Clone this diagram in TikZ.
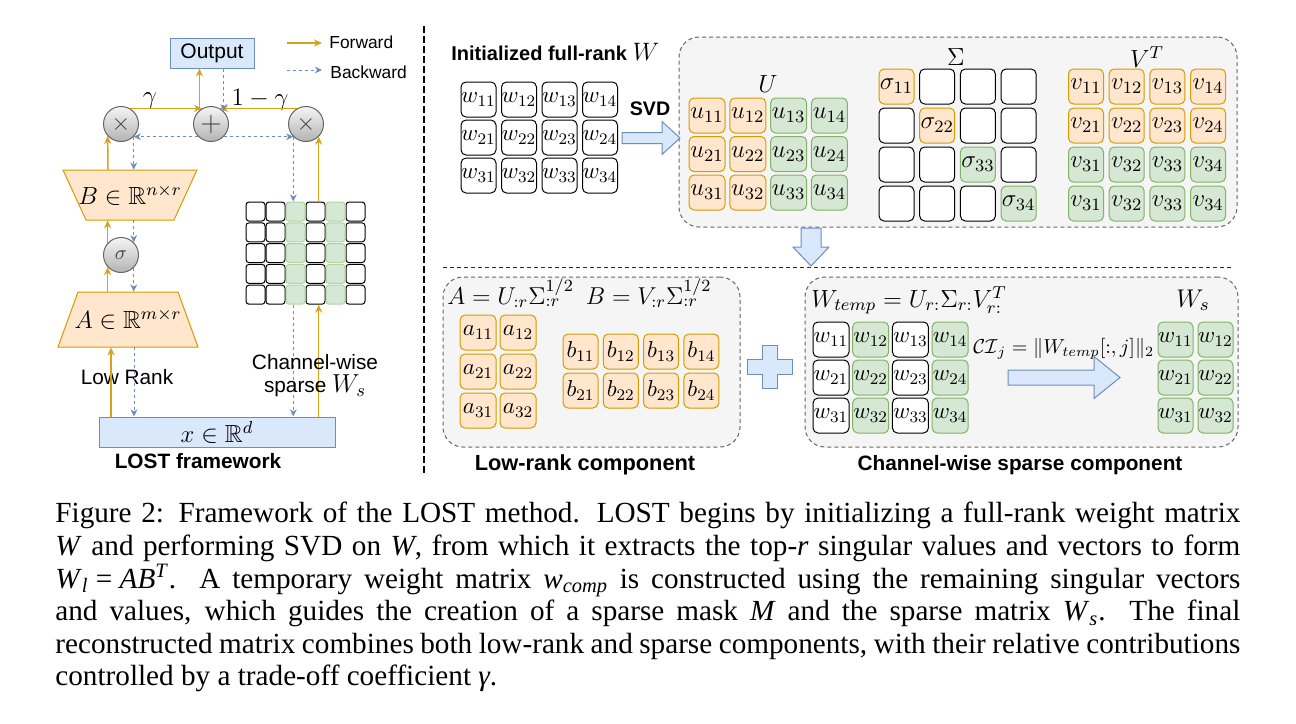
\RequirePackage{fix-cm}
\documentclass[tikz,border=0pt]{standalone}
\usepackage{amssymb}
\usepackage[no-math]{fontspec}
\newfontfamily\arial{Liberation Sans}
\newfontfamily\capfont{Liberation Serif}
\usetikzlibrary{arrows.meta}
\newcommand\setfs[2]{\fontsize{#1}{#2}\selectfont}
\newcommand\capit[1]{\textit{#1}}
\definecolor{ofill}{HTML}{FFE6CC}
\definecolor{ostroke}{HTML}{D79B00}
\definecolor{gfill}{HTML}{D5E8D4}
\definecolor{gstroke}{HTML}{82B366}
\definecolor{bfill}{HTML}{DAE8FC}
\definecolor{bstroke}{HTML}{6C8EBF}
\definecolor{contfill}{HTML}{F5F5F5}
\definecolor{contstroke}{HTML}{666666}
\definecolor{fwdc}{HTML}{D9A21B}
\definecolor{bwdc}{HTML}{6C8EBF}
\definecolor{ctop}{HTML}{F5F5F5}
\definecolor{cbot}{HTML}{B3B3B3}
\begin{document}
\begin{tikzpicture}[x=0.5pt,y=-0.5pt,
  fwd/.style={draw=fwdc, line width=0.75pt, -{Stealth[length=4pt,width=3.6pt]}},
  bwd/.style={draw=bwdc, line width=0.5pt, dash pattern=on 1.5pt off 1.5pt, -{Stealth[length=3.6pt,width=3.4pt]}},
  cellbase/.style={rounded corners=2.5pt, inner sep=0pt, line width=0.5pt},
  wc/.style={cellbase, draw=black, fill=white},
  oc/.style={cellbase, draw=ostroke, fill=ofill},
  gc/.style={cellbase, draw=gstroke, fill=gfill},
  sz35/.style={minimum width=17.5pt, minimum height=17.5pt},
  sz36/.style={minimum width=18pt, minimum height=17.5pt},
  m11/.style={font=\setfs{11.5}{13}},
  m12/.style={font=\setfs{12.4}{14}},
  sc/.style={minimum width=9.5pt, minimum height=9.5pt, rounded corners=1.5pt, inner sep=0pt, line width=0.5pt},
  opc/.style={circle, minimum size=17.5pt, inner sep=0pt, draw=contstroke, line width=0.5pt, top color=ctop, bottom color=cbot, text=black!75},
  cont/.style={draw=contstroke, fill=contfill, dash pattern=on 2pt off 1.5pt, rounded corners=10pt, line width=0.5pt, inner sep=0pt},
  bbox/.style={draw=bstroke, fill=bfill, line width=0.5pt, inner sep=0pt},
  blk/.style={draw=bstroke, fill=bfill, line width=0.5pt},
  lab/.style={font=\arial\setfs{10.4}{12}, inner sep=0pt},
  boldlab/.style={font=\arial\bfseries\setfs{10.4}{12}, inner sep=0pt},
]
\useasboundingbox (0,0) rectangle (1296,723);
\fill[white] (0,0) rectangle (1296,723);

% ---------- separators ----------
\draw[line width=1pt, dash pattern=on 3.5pt off 1.5pt] (423.5,26) -- (423.5,473);
\draw[line width=0.5pt, black!85, dash pattern=on 2pt off 1.5pt] (443,267) -- (1234,267);

% ---------- containers ----------
\node[cont, minimum width=279pt, minimum height=95pt] (svdc) at (958,132) {};
\node[cont, minimum width=148.5pt, minimum height=85pt] (lrc) at (591.5,362) {};
\node[cont, minimum width=216.5pt, minimum height=85pt] (spc) at (1021.5,362) {};

% ---------- block arrows ----------
\draw[blk] (622,132.5) -- (662,132.5) -- (662,121.5) -- (680,138) -- (662,154.5) -- (662,143.5) -- (622,143.5) -- cycle;
\draw[blk] (801,228) -- (821,228) -- (821,247) -- (829,247) -- (811,266) -- (793,247) -- (801,247) -- cycle;
\draw[blk] (1008,370) -- (1094,370) -- (1094,356.5) -- (1120,377.5) -- (1094,398.5) -- (1094,385) -- (1008,385) -- cycle;
\draw[blk] (747,359.5) -- (762.5,359.5) -- (762.5,345) -- (777.5,345) -- (777.5,359.5) -- (792,359.5) -- (792,374.5) -- (777.5,374.5) -- (777.5,388) -- (762.5,388) -- (762.5,374.5) -- (747,374.5) -- cycle;

% ---------- top right ----------
\node[anchor=base west, font=\arial\bfseries\setfs{10}{12}, inner sep=0pt] (initlab) at (451,60) {Initialized full-rank {\setfs{12.6}{14}$W$}};
\node[anchor=base, font=\arial\bfseries\setfs{9.8}{12}, inner sep=0pt] (svdlab) at (650,115) {SVD};

\foreach \r in {1,2,3}{\foreach \c in {1,2,3,4}{
  \node[wc,sz35,m11] (w-\r-\c) at ({478.5+40.5*(\c-1)},{99.5+38*(\r-1)}) {$w_{\r\c}$};
}}

\node[anchor=base, m12, inner sep=0pt] (ulab) at (768,92) {$U$};
\foreach \r in {1,2,3}{
  \foreach \c in {1,2}{\node[oc,sz36,m12] (u-\r-\c) at ({707+40.8*(\c-1)},{115.5+38.5*(\r-1)}) {$u_{\r\c}$};}
  \foreach \c in {3,4}{\node[gc,sz36,m12] (u-\r-\c) at ({707+40.8*(\c-1)},{115.5+38.5*(\r-1)}) {$u_{\r\c}$};}
}

\node[anchor=base, m12, inner sep=0pt] (slab) at (956,65) {$\Sigma$};
\foreach \r/\c in {1/2,1/3,1/4,2/1,2/3,2/4,3/1,3/2,3/4,4/1,4/2,4/3}{
  \node[wc,sz35] (sig-\r-\c) at ({896.5+40.7*(\c-1)},{86.5+39*(\r-1)}) {};
}
\node[oc,sz35,m12] (sig-1-1) at (896.5,86.5) {$\sigma_{11}$};
\node[oc,sz35,m12] (sig-2-2) at (937.2,125.5) {$\sigma_{22}$};
\node[gc,sz35,m12] (sig-3-3) at (977.9,164.5) {$\sigma_{33}$};
\node[gc,sz35,m12] (sig-4-4) at (1018.6,203.5) {$\sigma_{34}$};

\node[anchor=base, m12, inner sep=0pt] (vlab) at (1147,67) {$V^T$};
\foreach \c in {1,2,3,4}{
  \node[oc,sz35,m12] (v-1-\c) at ({1086+40.7*(\c-1)},86.5) {$v_{1\c}$};
  \node[oc,sz35,m12] (v-2-\c) at ({1086+40.7*(\c-1)},125.5) {$v_{2\c}$};
  \node[gc,sz35,m12] (v-3-\c) at ({1086+40.7*(\c-1)},164.5) {$v_{3\c}$};
  \node[gc,sz35,m12] (v-4-\c) at ({1086+40.7*(\c-1)},203.5) {$v_{3\c}$};
}

% ---------- bottom right: low rank ----------
\node[anchor=base west, font=\setfs{12.2}{14}, inner sep=0pt] (abform) at (447,304) {$A = U_{:r}\Sigma_{:r}^{1/2}\hspace{6pt}B = V_{:r}\Sigma_{:r}^{1/2}$};
\foreach \r in {1,2,3}{\foreach \c in {1,2}{
  \node[oc,sz36,m11] (a-\r-\c) at ({478+40*(\c-1)},{332.5+39*(\r-1)}) {$a_{\r\c}$};
}}
\foreach \r in {1,2}{\foreach \c in {1,2,3,4}{
  \node[oc,sz35,m11] (b-\r-\c) at ({580.5+40.3*(\c-1)},{351.5+39*(\r-1)}) {$b_{\r\c}$};
}}
\node[anchor=base, font=\arial\bfseries\setfs{10.9}{12}, inner sep=0pt] (lrlab) at (585,470) {Low-rank component};

% ---------- bottom right: sparse ----------
\node[anchor=base west, font=\setfs{12.4}{14}, inner sep=0pt] (wtform) at (811,307) {$W_{temp} = U_{r:}\Sigma_{r:}V_{r:}^{T}$};
\node[anchor=base, font=\setfs{12.8}{14}, inner sep=0pt] (wslab) at (1193,307) {$W_s$};
\foreach \r in {1,2,3}{
  \foreach \c in {1,3}{\node[wc,sz36,m11] (t-\r-\c) at ({831+39.7*(\c-1)},{339.5+38*(\r-1)}) {$w_{\r\c}$};}
  \foreach \c in {2,4}{\node[gc,sz36,m11] (t-\r-\c) at ({831+39.7*(\c-1)},{339.5+38*(\r-1)}) {$w_{\r\c}$};}
  \foreach \c in {1,2}{\node[gc,sz35,m11] (ws-\r-\c) at ({1175.5+40*(\c-1)},{339.5+38*(\r-1)}) {$w_{\r\c}$};}
}
\node[anchor=base west, font=\setfs{10.1}{12}, inner sep=0pt] (ciform) at (973,353) {$\mathcal{CI}_j = \|W_{temp}[:,j]\|_2$};
\node[anchor=base, boldlab] (splab) at (1020,470) {Channel-wise sparse component};

% ---------- left panel ----------
\node[bbox, minimum width=42pt, minimum height=15pt, font=\arial\setfs{10.5}{12}] (out) at (212,53) {Output};

\coordinate (lf0) at (287,43); \coordinate (lf1) at (322,43);
\coordinate (lb0) at (287,70); \coordinate (lb1) at (322,70);
\draw[fwd] (lf0) -- (lf1);
\draw[bwd] (lb0) -- (lb1);
\node[anchor=base west, font=\arial\setfs{8.7}{10}, inner sep=0pt] (fwdlab) at (329,48) {Forward};
\node[anchor=base west, font=\arial\setfs{8.7}{10}, inner sep=0pt] (bwdlab) at (330,78) {Backward};

\node[opc, font=\setfs{12}{14}] (m1) at (121,124) {$\times$};
\node[opc, font=\setfs{14}{14}] (pl) at (211,124) {$+$};
\node[opc, font=\setfs{12}{14}] (m2) at (306,124) {$\times$};
\node[opc, font=\setfs{10}{12}] (sgm) at (121,255) {$\sigma$};

\node[font=\setfs{12.5}{14}, inner sep=0pt] (glab) at (150,101) {$\gamma$};
\node[font=\setfs{12.5}{14}, inner sep=0pt] (g1lab) at (260,100) {$1-\gamma$};

% trapezoids
\draw[line width=0.5pt, draw=ostroke, fill=ofill] (63,170) -- (197,170) -- (174,220) -- (86,220) -- cycle;
\node[minimum width=67pt, minimum height=25pt, inner sep=0pt, font=\setfs{12.4}{14}] (nB) at (130,195) {$B\in\mathbb{R}^{n\times r}$};
\draw[line width=0.5pt, draw=ostroke, fill=ofill] (78,292) -- (178,292) -- (198,347) -- (58,347) -- cycle;
\node[minimum width=70pt, minimum height=27.5pt, inner sep=0pt, font=\setfs{12.4}{14}] (nA) at (128,319.5) {$A\in\mathbb{R}^{m\times r}$};

\node[bbox, minimum width=118pt, minimum height=15pt, font=\setfs{12.4}{14}] (xb) at (217,432) {$x\in\mathbb{R}^{d}$};

% sparse grid
\foreach \r in {1,...,5}{
  \foreach \c in {1,2,4,6}{\node[sc,draw=black,fill=white] (sp-\r-\c) at ({255.5+20*(\c-1)},{211.5+20.8*(\r-1)}) {};}
  \foreach \c in {3,5}{\node[sc,draw=gstroke!60,fill=gfill] (sp-\r-\c) at ({255.5+20*(\c-1)},{211.5+20.8*(\r-1)}) {};}
}

\node[anchor=base, lab] (lowlab) at (127,384) {Low Rank};

% connectors
\draw[fwd] (m1.60) -- (pl.120);
\draw[fwd] (m2.120) -- (pl.60);
\draw[fwd] (pl.130) -- (pl.130 |- out.south);
\draw[bwd] (out.south -| pl.45) -- (pl.45);
\draw[bwd] (pl.-135) -- (m1.-45);
\draw[bwd] (pl.-45) -- (m2.-135);

\draw[fwd] ([xshift=-11pt]nB.north) -- (m1.-138);
\draw[bwd] (m1.-45) -- (m1.-45 |- nB.north);
\draw[fwd] (sgm.138) -- (sgm.138 |- nB.south);
\draw[bwd] (sgm.45 |- nB.south) -- (sgm.45);
\draw[fwd] (sgm.-138 |- nA.north) -- (sgm.-138);
\draw[bwd] (sgm.-45) -- (sgm.-45 |- nA.north);
\draw[fwd] ([xshift=-8.5pt]nA.south |- xb.north) -- ([xshift=-8.5pt]nA.south);
\draw[bwd] ([xshift=3pt]nA.south) -- ([xshift=3pt]nA.south |- xb.north);

\draw[fwd] (sp-1-4.north -| m2.-45) -- (m2.-45);
\draw[bwd] (m2.-135) -- (m2.-135 |- sp-1-3.north);
\draw[fwd] (xb.north -| m2.-45) -- (m2.-45 |- sp-5-4.south);
\draw[bwd] (m2.-135 |- sp-5-3.south) -- (m2.-135 |- xb.north);

\node[align=center, font=\arial\setfs{10.4}{11.6}, inner sep=0pt] (chlab) at (315,376) {Channel-wise\\sparse {\setfs{13}{14}$W_s$}};
\node[anchor=base, boldlab] (lostlab) at (198,468) {LOST framework};

% ---------- caption ----------
\node[anchor=north west, inner sep=0pt, text width=592.5pt, align=justify, font=\capfont\setfs{14.6}{16.3}] (cap) at (55,502) {Figure 2: Framework of the LOST method. LOST begins by initializing a full-rank weight matrix\linebreak
\capit{W} and performing SVD on \capit{W}, from which it extracts the top-\capit{r} singular values and vectors to form\linebreak
\capit{W}\textsubscript{\capit{l}}\hspace{0.25em}=\hspace{0.25em}\capit{AB}\textsuperscript{\capit{T}}. A temporary weight matrix \capit{w}\textsubscript{\capit{comp}} is constructed using the remaining singular vectors\linebreak
and values, which guides the creation of a sparse mask \capit{M} and the sparse matrix \capit{W}\textsubscript{\capit{s}}. The final\linebreak
reconstructed matrix combines both low-rank and sparse components, with their relative contributions\linebreak
controlled by a trade-off coefficient \capit{γ}.};
\end{tikzpicture}
\end{document}
